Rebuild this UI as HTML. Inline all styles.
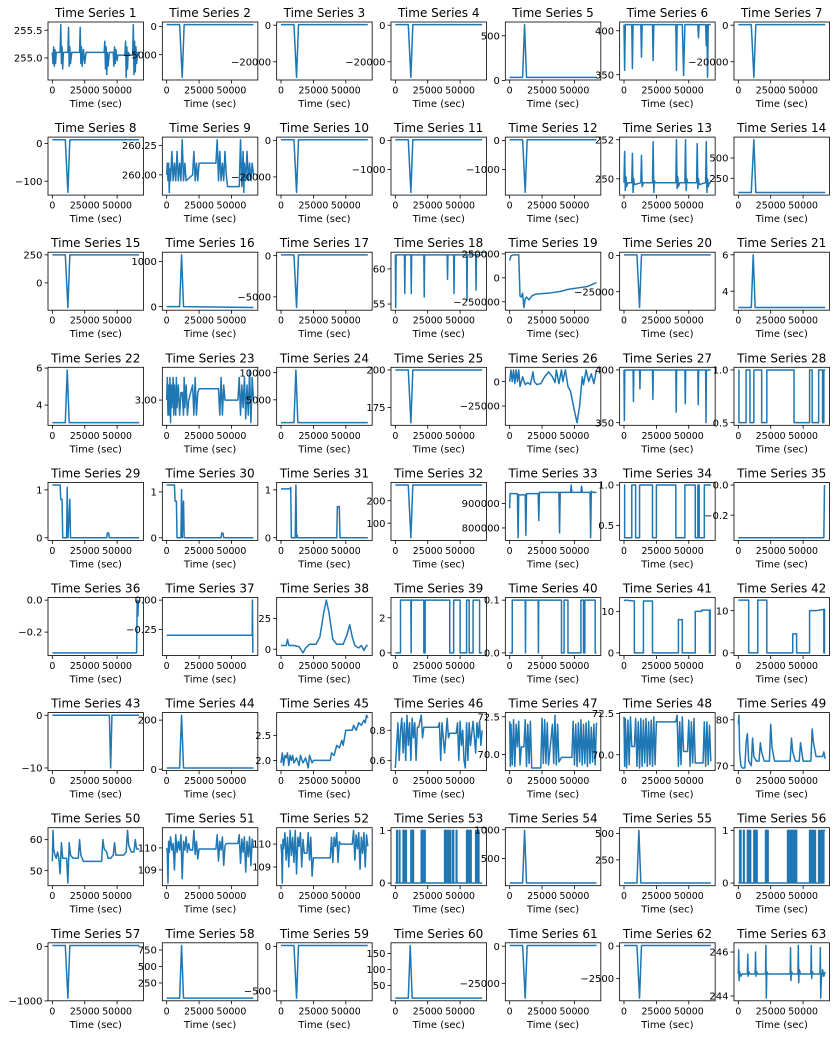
<!DOCTYPE html>
<html><head><meta charset="utf-8"><style>
html,body{margin:0;padding:0;background:#fff;}
svg text{font-family:"DejaVu Sans","Liberation Sans",sans-serif;fill:#000;}
</style></head><body>
<svg id="fig" width="836" height="1039" viewBox="0 0 836 1039" xmlns="http://www.w3.org/2000/svg"></svg>
<script>
const xTicks = [0, 25000, 50000];
const timeScaleK = 1000;
const yTicks = [
["255.0","255.5"],["0","-5000"],["0","-20000"],["0","-20000"],["0","500"],["350","400"],["0","-20000"],
["0","-100"],["260.00","260.25"],["0","-20000"],["0","-1000"],["0","-1000"],["250","252"],["250","500"],
["0","250"],["0","1000"],["0","-5000"],["55","60"],["250000","0","-250000"],["0","-25000"],["4","6"],
["4","6"],["3.00","3.05"],["5000","10000"],["175","200"],["0","-25000"],["350","400"],["0.5","1.0"],
["0","1"],["0","1"],["0","1"],["100","200"],["800000","900000"],["0.5","1.0"],["-0.2","0.0"],
["-0.2","0.0"],["-0.25","0.00"],["0","25"],["0","2"],["0.0","0.1"],["0","10"],["0","10"],
["0","-10"],["0","200"],["2.0","2.5"],["0.6","0.8"],["70.0","72.5"],["70.0","72.5"],["70","80"],
["50","60"],["109","110"],["109","110"],["0","1"],["500","1000"],["250","500"],["0","1"],
["0","-1000"],["250","500","750"],["0","-500"],["50","100","150"],["0","-25000"],["0","-2500"],["244","246"]
];
const seriesPoints = [
[0,255.1,0.5,254.9,1,255.2,1.5,254.85,2,255.15,2.5,254.9,3,255.1,6,255.1,6.5,255.6,7,254.9,7.5,255.2,8,254.8,8.5,255.1,12,255.1,12.5,255.55,13,254.85,13.5,255.2,14,254.9,15,255.1,21,255.1,21.5,255.55,22,254.9,22.5,255.2,23,254.85,24,255.15,25,254.9,26,255.1,40,255.1,40.5,255.3,41,254.8,41.5,255.2,42,254.7,42.5,255.1,43,254.85,44,255.1,47,255.1,47.5,254.85,48,255.2,48.5,254.9,49,255.15,50,254.95,50.5,255.05,56,255.05,56.5,255.3,57,254.65,57.5,255.2,58,254.8,58.5,255.1,60,255.05,62,255.05,62.5,255.6,63,254.7,63.5,255.3,64,254.75,64.5,255.2,65,254.9,66,255.1,67,255.1],
[0,300,10,300,12,-9000,13.5,300,67,300],
[0,300,10,300,12,-28500,13.5,300,67,300],
[0,300,10,300,12,-28500,13.5,300,67,300],
[0,35,10,35,11.5,625,13,35,67,35],
[0,407,0.5,355,1,407,6,407,6.5,357,7,407,13,407,13.5,370,14,407,22,407,22.5,366,23,407,40,407,40.5,355,41,407,45,407,46,349,47,407,57,407,57.5,392,58,407,63,407,63.5,383,64,407,64.5,347,65,407,67,407],
[0,300,10,300,12,-28500,13.5,300,67,300],
[0,10,10,10,12,-130,13.5,10,67,10],
[0,260,0.5,260.1,1,259.95,1.5,260.1,2,259.85,2.5,260.05,3,259.95,4,260.2,5,259.95,6,260.1,7,259.95,8,260.2,9,259.95,10,260.1,11,259.95,12,260.3,13,259.95,14,260.1,15,259.95,20,260,21,260.2,22,259.95,23,260.1,24,259.95,25,260.1,38,260.1,39,260.3,40,259.95,41,260.2,42,259.95,43,260.1,44,259.95,45,260.2,46,260,47,259.9,56,259.9,57,260.3,58,259.9,59,260.2,59.5,259.85,60,260.1,61,259.95,62,260.2,63,259.95,64,260.1,65,259.95,66,260.1,67,260],
[0,300,10,300,12,-28500,13.5,300,67,300],
[0,30,10,30,12,-1800,13.5,30,67,30],
[0,30,10,30,12,-1800,13.5,30,67,30],
[0,249.8,0.5,251.4,1,249.4,1.5,250.1,2,249.6,3,249.8,6,249.8,6.5,251.3,7,249.3,7.5,250,8,249.7,13,249.8,13.5,251.2,14,249.6,15,249.8,22,249.8,22.5,251.9,23,249.3,23.5,249.9,24,249.8,40,249.8,40.5,252,41,249.5,41.5,250.1,42,249.6,43,249.8,47,249.8,47.5,252,48,249.4,48.5,250,49,249.8,56,249.8,56.5,251.8,57,249.5,57.5,250,58,249.7,63,249.8,63.5,251.9,64,249.3,64.5,250,65,249.6,66,249.8,67,249.8],
[0,75,10,75,12,725,13.5,75,67,75],
[0,250,10,250,12,-220,13.5,250,67,250],
[0,0,10,0,11.5,1150,13,0,67,-20],
[0,100,10,100,12,-6300,13.5,100,67,100],
[0,62,0.3,54.5,0.6,62,7,62,7.3,56.5,7.6,62,12,62,12.3,56.5,12.6,62,22,62,22.3,56,22.6,62,40,62,40.3,58.5,40.6,62,45,62,45.3,56.5,45.6,62,55,62,55.3,55.5,55.6,62,62,62,62.3,57,62.6,62,67,62],
[0,180000,1,230000,3,240000,7,240000,8,-190000,9,-200000,10,-160000,11,-310000,12,-220000,13,-200000,15,-230000,17,-190000,20,-170000,30,-160000,40,-140000,45,-120000,55,-100000,60,-90000,67,-50000],
[0,500,10,500,12,-36000,13.5,500,67,500],
[0,3.1,10,3.1,11.5,6,13,3.1,67,3.1],
[0,3.05,10,3.05,11.5,5.9,13,3.05,67,3.05],
[0,3.0,0.5,3.03,1,2.98,1.5,3.02,2,2.98,2.5,3.03,3,2.97,3.5,3.02,4,2.99,5,3.03,5.5,2.98,6,3.02,7,2.98,7.5,3.03,8,2.99,9,3.02,10,2.98,11,3.01,12,3.01,13,2.98,13.5,3.03,14,2.99,15,3.02,16,2.98,17,3.0,20,3.02,21,2.98,22,3.03,23,2.98,24,3.01,25,3.015,40,3.015,41,2.98,42,3.03,43,2.98,44,3.02,45,3.0,47,3.0,55,3.0,56,3.03,57,2.98,58,3.02,59,2.99,60,3.03,61,2.975,62,3.02,63,2.98,64,3.04,65,2.97,66,3.03,67,3.0],
[0,800,10,800,11.5,10500,13,800,67,800],
[0,200,10,200,12,165,13.5,200,67,200],
[0,0,1,12000,2,0,3,12000,4,-2000,5,12000,6,0,7,12000,8,-5000,10,5000,12,-3000,14,-1000,16,-3000,18,10000,19,0,21,-3000,24,-2000,27,5000,30,10000,33,5000,35,-1000,36,12000,38,-2000,40,12000,41,0,43,12000,45,-5000,47,-10000,50,-30000,52,-42000,54,-25000,56,5000,57,-3000,59,12000,61,0,63,8000,65,-2000,67,12000],
[0,400,0.3,352,0.6,400,7,400,7.3,370,7.6,400,12,400,12.3,382,12.6,400,22,400,22.3,372,22.6,400,40,400,40.3,360,40.6,400,47,400,47.3,368,47.6,400,57,400,57.3,367,57.6,400,63,400,63.3,350,63.6,400,67,400],
[0,1,0.5,1,0.5,0.5,6,0.5,6,1,9,1,9,0.5,12,0.5,12,1,18,1,18,0.5,22,0.5,22,1,43,1,43,0.5,55,0.5,55,1,57,1,57,0.5,62,0.5,62,1,65,1,65,0.5,66,0.5,66,1,67,1],
[0,1.1,6,1.1,6.5,0.8,7.5,0.8,8,0,11,0,11.5,1.05,12,0,13,0.5,13.5,0.8,14,0,15,0,42,0,42.5,0.1,43.5,0.1,44,0,67,0],
[0,1.15,6,1.15,6.5,0.8,7.5,0.8,8,0,11,0,11.5,1.05,12,0,12.5,0.5,13,0.8,13.5,0,42,0,42.5,0.1,43.5,0.1,44,0,67,0],
[0,1.02,7,1.02,7.5,1.05,8,0,11,0,11.5,1.1,12,0,12.5,0.05,13,0,43,0,43.5,0.65,45,0.65,45.5,0,67,0],
[0,270,10,270,12,35,13.5,270,67,270],
[0,880000,0.3,940000,6,940000,6.5,760000,7,935000,12,935000,12.5,770000,13,940000,22,940000,22.5,830000,23,945000,38,945000,38.5,780000,39,945000,47,945000,47.5,975000,48,945000,55,945000,55.5,970000,56,945000,62,945000,62.5,760000,63,950000,64,945000,67,945000],
[0,1,0.5,1,0.5,0.35,6,0.35,6,1,9,1,9,0.35,12,0.35,12,1,22,1,22,0.35,25,0.35,25,1,40,1,40,0.35,47,0.35,47,1,55,1,55,0.35,57,0.35,57,1,58,1,58,0.35,62,0.35,62,1,67,1],
[0,-0.35,66,-0.35,66.5,0],
[0,-0.33,65,-0.33,65.5,0,66,-0.1,66.5,0],
[0,-0.3,66,-0.3,66.2,0,66.5,-0.45],
[0,3,4,3,5,8,6,3,10,3,14,2,17,-3,19,1,22,4,27,4,30,10,33,30,35,40,37,30,40,8,43,4,48,4,51,12,53,20,55,10,57,3,60,1,62,3,64,-1,66,3,67,3],
[0,0,4,0,4,3,12,3,12.2,0,12.4,3,22,3,22,0,23,0,23,3,42,3,42,0,45,0,45,3,50,3,50,0,55,0,55,3,57,3,57,0,60,0,60,3,65,3,65,0,67,0],
[0,0,2,0,2,0.1,12,0.1,12.2,0,12.4,0.1,22,0.1,22.2,0,22.4,0.1,40,0.1,40,0,42,0,42,0.1,45,0.1,45,0,55,0,55,0.1,57,0.1,57,0,58,0,58,0.1,66,0.1,66,0,67,0],
[0,12.5,1,12.7,8,12.5,8,0,15,0,15,12.5,22,12.5,22,0,42,0,42,8,45,8,45,0,55,0,55,10,60,10,60,10.3,66,10.3,66,0,66.5,0,66.5,10.5],
[0,12.5,8,12.5,8,0,15,0,15,12.5,22,12.5,22,0,42,0,42,4.5,45,4.5,45,0,55,0,55,10,60,10,66,10.3,66,0,66.5,0,66.5,10.5],
[0,0,44,0,45,-10,46,0,67,0],
[0,5,10,5,11.5,220,13,5,67,5],
[0,1.95,1,2.15,2,1.9,3,2.1,4,2.05,5,2.15,6,1.9,7,2.1,8,2.0,9,2.1,10,1.95,12,2.05,14,1.9,15,2.1,17,1.95,19,2.05,21,1.85,22,2.1,24,1.95,25,2.0,38,2.0,39,2.15,41,2.1,43,2.3,45,2.25,47,2.4,48,2.3,50,2.6,55,2.6,56,2.7,58,2.6,60,2.75,62,2.7,64,2.8,65,2.75,66,2.9,67,2.85],
[0,0.55,1,0.7,2,0.85,3,0.6,4,0.8,5,0.88,6,0.65,7,0.85,8,0.6,9,0.9,10,0.7,11,0.85,12,0.6,13,0.88,14,0.75,15,0.85,16,0.6,17,0.82,18,0.82,20,0.9,21,0.75,22,0.82,33,0.82,34,0.85,35,0.6,36,0.85,38,0.65,40,0.88,41,0.75,42,0.78,47,0.78,48,0.85,49,0.6,50,0.86,51,0.7,52,0.8,53,0.6,54,0.55,55,0.85,56,0.6,57,0.85,58,0.7,60,0.86,62,0.65,63,0.85,64,0.75,65,0.86,66,0.7,67,0.8],
[0,72.2,0.5,69.2,1,72,2,69.3,3,72.3,4,69.2,5,72,6,70.5,7,72.2,8,69.3,9,70.5,11,70.5,12,72.3,13,69.2,14,72,15,69.4,16,72.2,17,69.1,17.5,69.1,24,69.1,25,72.4,26,69.4,27,72.3,28,69.4,29,72.1,30,69.3,33,72,34,69.4,35,72.6,36,69.3,37,72,38,69.5,40,69.8,48,69.8,49,72.2,50,69.3,51,72,52,69.2,53,72.1,54,69.5,55,72.3,56,69.3,57,72,58,69.4,59,72.1,60,69.2,61,72.2,62,69.4,63,71.8,64,69.5,65,72.0,66,69.3,67,72.1],
[0,72.3,0.5,69.3,1,72.2,2,69.2,3,72.1,4,69.4,5,72.3,6,70.5,8,70.5,9,72.2,10,69.3,11,72.0,12,69.2,13,72.2,14,69.3,15,72.1,16,69.5,17,72.2,18,69.3,19,72.0,20,69.4,21,72.1,22,69.3,23,72.3,24,69.4,25,72.0,40,72.0,41,72.4,42,69.3,43,72.0,44,69.4,45,72.3,46,70.2,49,70.2,50,72.1,51,69.3,52,72.0,53,69.5,54,72.2,55,69.5,61,69.5,62,72.0,63,69.3,64,72.0,65,69.4,66,71.8,67,69.6],
[0,79,0.5,81,1,73,2,70,3,69.5,5,69.5,6,75,7,77,8,71,10,70,11,76,12,72,14,71,16,71,17,75,18,73,20,71,24,71,25,79,26,74,28,71,40,71,41,76,42,73,44,71,47,71,48,75,49,73,50,71,56,71,57,78,58,75,60,72,65,72,66,73,67,71.5],
[0,53,0.5,63,1,57,2,55,3,54,4,56,5,54,6,49,7,59,8,54,9,54,11,54,12,46,13,59,14,55,16,54,18,54,20,54,21,60,22,55,24,53,38,53,39,60,40,57,42,56,43,54,45,54,47,55,48,59,49,55,52,55,55,55,57,56,58,63,59,58,61,56,63,56,64,60,65,57,67,57],
[0,110,0.5,109.8,1,108.4,1.5,110.3,2,109.8,3,110.5,4,109.9,5,110.2,6,109.0,7,110.6,8,109.8,9,110.3,10,109.9,11,110.6,12,108.6,13,110.3,14,109.9,15,110.5,16,109.8,17,110.2,18,109.9,20,109.9,21,110.8,22,109.7,23,110.3,24,109.5,25,109.95,38,109.95,39,110.6,40,109.4,41,110.3,42,109.9,43,110.5,44,109.2,45,110.1,46,110.2,55,110.2,56,110.6,57,109.3,58,110.4,59,109.8,60,110.5,61,108.9,62,110.3,63,109.6,64,110.5,65,109.2,66,110.4,67,110.0],
[0,110,0.5,109.6,1,108.3,1.5,110.2,2,109.8,3,110.5,4,109.3,5,110.3,6,109.0,7,110.6,8,109.5,9,110.3,10,109.2,11,110.6,12,108.7,13,110.3,14,109.9,15,110.5,16,109.0,17,110.2,18,109.6,20,109.6,21,110.5,22,109.3,23,110.3,24,108.6,25,109.4,38,109.4,39,110.3,40,109.2,41,110.3,42,109.9,43,110.5,44,109.2,45,110.1,46,110.0,55,110.0,56,110.6,57,109.3,58,110.4,59,109.8,60,110.5,61,108.9,62,110.3,63,109.6,64,110.5,65,109.0,66,110.4,67,109.9],
[0,0,1,0,1,1,1.5,1,1.5,0,3,0,3,1,3.5,1,3.5,0,6,0,6,1,7,1,7,0,8,0,8,1,8.5,1,8.5,0,12,0,12,1,13,1,13,0,13.5,0,13.5,1,14,1,14,0,20,0,20,1,20.5,1,20.5,0,21,0,21,1,21.5,1,21.5,0,22,0,22,1,23,1,23,0,38,0,38,1,39,1,39,0,40,0,40,1,41,1,41,0,42,0,42,1,42.5,1,42.5,0,44,0,44,1,45,1,45,0,47,0,47,1,47.5,1,47.5,0,55,0,55,1,55.5,1,55.5,0,56,0,56,1,57,1,57,0,58,0,58,1,58.5,1,58.5,0,62,0,62,1,63,1,63,0,64,0,64,1,64.5,1,64.5,0,67,0],
[0,70,10,70,11.5,990,13,70,67,70],
[0,30,10,30,11.5,530,13,30,67,30],
[0,0,1,0,1,1,2,1,2,0,4,0,4,1,4.5,1,4.5,0,7,0,7,1,8,1,8,0,9,0,9,1,9.5,1,9.5,0,12,0,12,1,13,1,13,0,14,0,14,1,14.5,1,14.5,0,21,0,21,1,21.5,1,21.5,0,22,0,22,1,23,1,23,0,38,0,38,1,39,1,39,0,40,0,40,1,41,1,41,0,42,0,42,1,43,1,43,0,44,0,44,1,45,1,45,0,55,0,55,1,56,1,56,0,57,0,57,1,58,1,58,0,59,0,59,1,59.5,1,59.5,0,62,0,62,1,63,1,63,0,64,0,64,1,65,1,65,0,66,0,66,1,67,1],
[0,20,10,20,12,-950,13.5,20,67,20],
[0,20,10,20,11.5,820,13,20,67,20],
[0,10,10,10,12,-580,13.5,10,67,10],
[0,10,10,10,11.5,175,13,10,67,10],
[0,500,10,500,12,-35000,13.5,500,67,500],
[0,50,10,50,12,-4000,13.5,50,67,50],
[0,245,0.3,246.1,0.6,244.7,1,245.1,2,244.9,3,245,7,245,7.3,245.9,7.6,244.9,8,245.1,9,245,13,245,13.3,246,13.6,244.9,14,245.1,15,245,21,245,21.3,246.3,21.6,243.9,22,245.1,23,245,40,245,40.3,246.2,40.6,244.7,41,245.1,42,245,46,245,46.3,246.3,46.6,244.6,47,245.2,48,245,56,245,56.3,246.3,56.6,244.8,57,245.1,58,245,63,245,63.3,246.2,63.6,243.9,64,244.7,65,245.2,66,244.9,67,245.1]
];

const NS = "http://www.w3.org/2000/svg";
const svg = document.getElementById('fig');
function mk(tag, attrs, parent){const e=document.createElementNS(NS,tag);for(const k in attrs)e.setAttribute(k,attrs[k]);(parent||svg).appendChild(e);return e;}
const fmt = s => s.replace('-', '\u2212');
const W = 95.5, H = 58, X0 = 48, Y0 = 22, PX = 114.33, PY = 115.1;
const XMIN = -3350, XMAX = 70350;

seriesPoints.forEach((pts, i) => {
  const col = i % 7, row = Math.floor(i / 7);
  const L = X0 + col * PX, T = Y0 + row * PY, B = T + H;
  const g = mk('g', {});
  
  
  let vmin = Infinity, vmax = -Infinity;
  for (let k = 1; k < pts.length; k += 2) { vmin = Math.min(vmin, pts[k]); vmax = Math.max(vmax, pts[k]); }
  const span = (vmax - vmin) || 1;
  const ylo = vmin - 0.05 * span, yhi = vmax + 0.05 * span;
  const xs = t => L + (t - XMIN) / (XMAX - XMIN) * W;
  const ys = v => B - (v - ylo) / (yhi - ylo) * H;
  const cp = mk('clipPath', {id: 'c' + i}, g);
  mk('rect', {x: L, y: T, width: W, height: H}, cp);
  let d = '';
  for (let k = 0; k < pts.length; k += 2) d += (k ? 'L' : 'M') + xs(pts[k] * timeScaleK).toFixed(2) + ',' + ys(pts[k + 1]).toFixed(2);
  const line = mk('path', {d: d, fill: 'none', stroke: '#1f77b4', 'stroke-width': 1.5, 'stroke-linejoin': 'round', 'clip-path': 'url(#c' + i + ')'}, g);
  
  
  const fr = mk('rect', {x: L, y: T, width: W, height: H, fill: 'none', stroke: '#000', 'stroke-width': 0.8}, g);
  
  
  const tt = mk('text', {x: L + W / 2, y: T - 5, 'text-anchor': 'middle', 'font-size': 12}, g);
  tt.textContent = 'Time Series ' + (i + 1);
  
  
  xTicks.forEach(xv => {
    const x = xs(xv);
    mk('line', {x1: x, x2: x, y1: B, y2: B + 3.5, stroke: '#000', 'stroke-width': 0.8}, g);
    const tl = mk('text', {x: x, y: B + 13.5, 'text-anchor': 'middle', 'font-size': 9.4}, g);
    tl.textContent = String(xv);
    
    
  });
  const xl = mk('text', {x: L + W / 2, y: B + 27, 'text-anchor': 'middle', 'font-size': 10}, g);
  xl.textContent = 'Time (sec)';
  
  
  yTicks[i].forEach(s => {
    const v = parseFloat(s), y = ys(v);
    if (y < T - 0.5 || y > B + 0.5) return;
    mk('line', {x1: L - 3.5, x2: L, y1: y, y2: y, stroke: '#000', 'stroke-width': 0.8}, g);
    const yl = mk('text', {x: L - 5.5, y: y + 3.6, 'text-anchor': 'end', 'font-size': 10}, g);
    yl.textContent = fmt(s);
    
    
  });
});
</script>
</body></html>
